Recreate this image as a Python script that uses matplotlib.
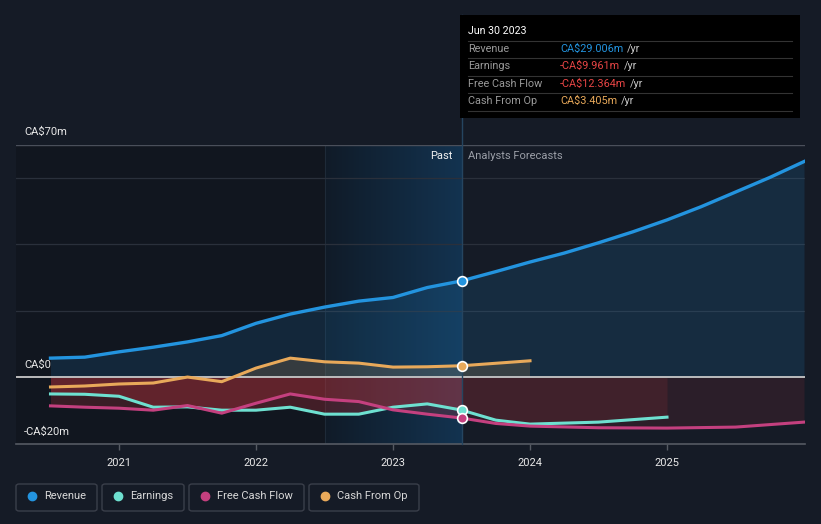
import numpy as np
import matplotlib
matplotlib.use('Agg')
import matplotlib.pyplot as plt
from matplotlib.patches import FancyBboxPatch, Rectangle
from matplotlib.lines import Line2D

plt.rcParams['font.family'] = ['Roboto', 'DejaVu Sans']

# figure size in pixels
W, H = 821, 524

# data (years as decimals, values in CA$m)
past_years = [2020.5, 2020.75, 2021.0, 2021.25, 2021.5, 2021.75, 2022.0,
              2022.25, 2022.5, 2022.75, 2023.0, 2023.25, 2023.5]
revenue_past = [5.7, 6.0, 7.6, 9.0, 10.6, 12.5, 16.2, 19.0, 21.1, 22.9, 24.0, 27.0, 29.006]
earnings_past = [-5.1, -5.2, -5.8, -9.1, -9.0, -10.0, -10.0, -9.1, -11.2, -11.2, -9.1, -8.1, -9.961]
fcf_past = [-8.7, -9.1, -9.4, -10.0, -8.6, -10.9, -7.9, -5.1, -6.7, -7.4, -9.9, -11.2, -12.364]
cfo_past = [-3.0, -2.7, -2.1, -1.8, 0.0, -1.4, 2.7, 5.7, 4.6, 4.2, 3.0, 3.1, 3.405]

rev_fc_years = [2023.5, 2023.75, 2024.0, 2024.25, 2024.5, 2024.75, 2025.0, 2025.25, 2025.5, 2025.75, 2026.0]
revenue_fc = [29.006, 31.8, 34.7, 37.4, 40.5, 43.8, 47.4, 51.4, 55.8, 60.2, 65.0]
earn_fc_years = [2023.5, 2023.75, 2024.0, 2024.5, 2025.0]
earnings_fc = [-9.961, -13.0, -14.2, -13.6, -12.1]
fcf_fc_years = [2023.5, 2023.75, 2024.0, 2024.5, 2025.0, 2025.5, 2026.0]
fcf_fc = [-12.364, -14.0, -14.8, -15.3, -15.4, -15.1, -13.6]
cfo_fc_years = [2023.5, 2024.0]
cfo_fc = [3.405, 4.9]

year_ticks = [2021, 2022, 2023, 2024, 2025]

# colours
BG = '#151b26'
C_REV = '#2394df'
C_EARN = '#6ee0d0'
C_FCF = '#c4407f'
C_CFO = '#e8a95a'
C_RED = '#d0383f'


def fx(px):
    return px / W


def fy(py):
    return 1 - py / H


fig = plt.figure(figsize=(W / 100, H / 100), dpi=100, facecolor=BG)
ax = fig.add_axes([fx(16), fy(444), fx(805) - fx(16), fy(145) - fy(444)])
ax.set_facecolor(BG)

x0 = 2021 + (16 - 119) / 137
x1 = 2021 + (805 - 119) / 137
ylo, yhi = -20.2, 70
ax.set_xlim(x0, x1)
ax.set_ylim(ylo, yhi)

# darker part of the past
ax.axvspan(x0, 2022.5, color='#11161f', zorder=0, lw=0)

# highlighted last year with a gradient
grad = np.linspace(0, 1, 256).reshape(1, -1)
cmap = matplotlib.colors.LinearSegmentedColormap.from_list('g', ['#101b28', '#133350'])
ax.imshow(grad, extent=[2022.5, 2023.5, ylo, yhi], aspect='auto', cmap=cmap, zorder=0.5)
ax.axvline(2022.5, color='#1e2a38', lw=0.8, zorder=0.6)

# gridlines
for v in [60, 40, 20]:
    ax.axhline(v, color='#2a303b', lw=0.9, zorder=1)
ax.axhline(70, color='#4a4f5a', lw=1.0, zorder=1)

rev_all_x = past_years + rev_fc_years[1:]
rev_all_y = revenue_past + revenue_fc[1:]
earn_all_x = past_years + earn_fc_years[1:]
earn_all_y = earnings_past + earnings_fc[1:]
fcf_all_x = past_years + fcf_fc_years[1:]
fcf_all_y = fcf_past + fcf_fc[1:]
cfo_all_x = past_years + cfo_fc_years[1:]
cfo_all_y = cfo_past + cfo_fc[1:]

# area fills
ax.fill_between(rev_all_x, rev_all_y, 0, color=C_REV, alpha=0.14, lw=0, zorder=2)
ax.fill_between(cfo_all_x, cfo_all_y, 0, where=np.array(cfo_all_y) >= 0, interpolate=True,
                color=C_CFO, alpha=0.16, lw=0, zorder=2)
ax.fill_between(past_years, earnings_past, 0, color=C_RED, alpha=0.26, lw=0, zorder=2)
ax.fill_between(past_years, fcf_past, 0, color=C_RED, alpha=0.22, lw=0, zorder=2)
ax.fill_between(earn_fc_years, earnings_fc, 0, color=C_RED, alpha=0.13, lw=0, zorder=2)
ax.fill_between(fcf_fc_years, fcf_fc, 0, color=C_RED, alpha=0.12, lw=0, zorder=2)

# zero line
ax.axhline(0, color='#c8c8c8', lw=1.3, zorder=3)

# divider between past and forecasts, running up to the tooltip
ax.plot([2023.5, 2023.5], [ylo, (377 - 15) / 3.314], color='#254560', lw=1.0,
        zorder=4, clip_on=False)

# series lines
ax.plot(rev_all_x, rev_all_y, color=C_REV, lw=2.4, zorder=5, solid_joinstyle='round')
ax.plot(cfo_all_x, cfo_all_y, color=C_CFO, lw=2.2, zorder=5, solid_joinstyle='round')
ax.plot(earn_all_x, earn_all_y, color=C_EARN, lw=2.2, zorder=5, solid_joinstyle='round')
ax.plot(fcf_all_x, fcf_all_y, color=C_FCF, lw=2.2, zorder=5, solid_joinstyle='round')

# markers at the last reported point
for val, c in [(revenue_past[-1], C_REV), (cfo_past[-1], C_CFO),
               (earnings_past[-1], C_EARN), (fcf_past[-1], C_FCF)]:
    ax.plot([2023.5], [val], 'o', ms=7, mfc=c, mec='white', mew=1.2, zorder=7)

# axes styling
for s in ['top', 'right', 'left']:
    ax.spines[s].set_visible(False)
ax.spines['bottom'].set_color('#555a63')
ax.spines['bottom'].set_linewidth(1.2)
ax.set_yticks([])
ax.set_xticks(year_ticks)
ax.set_xticklabels([str(y) for y in year_ticks])
ax.tick_params(axis='x', colors='#555a63', length=4, width=1, labelcolor='#e8e8e8',
               labelsize=8, pad=6)

# y labels
fig.text(fx(24), fy(132), 'CA\\$70m', color='#e8e8e8', fontsize=8, va='center', ha='left')
fig.text(fx(24), fy(365), 'CA\\$0', color='#e8e8e8', fontsize=8, va='center', ha='left')
fig.text(fx(24), fy(432), '-CA\\$20m', color='#e8e8e8', fontsize=8, va='center', ha='left')

fig.text(fx(452), fy(156), 'Past', color='#f0f0f0', fontsize=8, va='center', ha='right')
fig.text(fx(468), fy(156), 'Analysts Forecasts', color='#9a9ea6', fontsize=8, va='center', ha='left')

# tooltip box
fig.add_artist(Rectangle((fx(460), fy(118)), fx(800) - fx(460), fy(15) - fy(118),
                         transform=fig.transFigure, facecolor='#000000', edgecolor='none', zorder=8))
fig.text(fx(468), fy(31), 'Jun 30 2023', color='white', fontsize=7.7, va='center', ha='left', zorder=9)
for py in [41, 58, 76, 93, 111]:
    fig.add_artist(Line2D([fx(468), fx(792)], [fy(py), fy(py)], color='#333333', lw=0.8, zorder=9))

rows = [('Revenue', 'CA\\$29.006m', C_REV, 49),
        ('Earnings', '-CA\\$9.961m', '#e84545', 66),
        ('Free Cash Flow', '-CA\\$12.364m', '#e84545', 84),
        ('Cash From Op', 'CA\\$3.405m', C_CFO, 101)]
fig.canvas.draw()
renderer = fig.canvas.get_renderer()
for label, value, c, py in rows:
    fig.text(fx(468), fy(py), label, color='#9a9a9a', fontsize=7.8, va='center', ha='left', zorder=9)
    t = fig.text(fx(560), fy(py), value, color=c, fontsize=7.8, va='center', ha='left', zorder=9)
    bb = t.get_window_extent(renderer)
    fig.text(bb.x1 / W + fx(4), fy(py), '/yr', color='#c8c8c8', fontsize=7.8, va='center',
             ha='left', zorder=9)

# legend boxes
legend = [('Revenue', C_REV, 16, 97), ('Earnings', C_EARN, 102, 184),
          ('Free Cash Flow', C_FCF, 189, 304), ('Cash From Op', C_CFO, 309, 419)]
for name, c, xa, xb in legend:
    fig.add_artist(FancyBboxPatch((fx(xa), fy(511)), fx(xb) - fx(xa), fy(484) - fy(511),
                                  boxstyle='round,pad=0,rounding_size=0.004',
                                  transform=fig.transFigure, facecolor='none',
                                  edgecolor='#3a3f4a', lw=1.0))
    fig.add_artist(Line2D([fx(xa + 16)], [fy(496)], marker='o', ms=6, color=c, mec=c, lw=0))
    fig.text(fx(xa + 28), fy(496), name, color='#d8d8d8', fontsize=8, va='center', ha='left')

fig.savefig('out.png', dpi=100, facecolor=BG)
